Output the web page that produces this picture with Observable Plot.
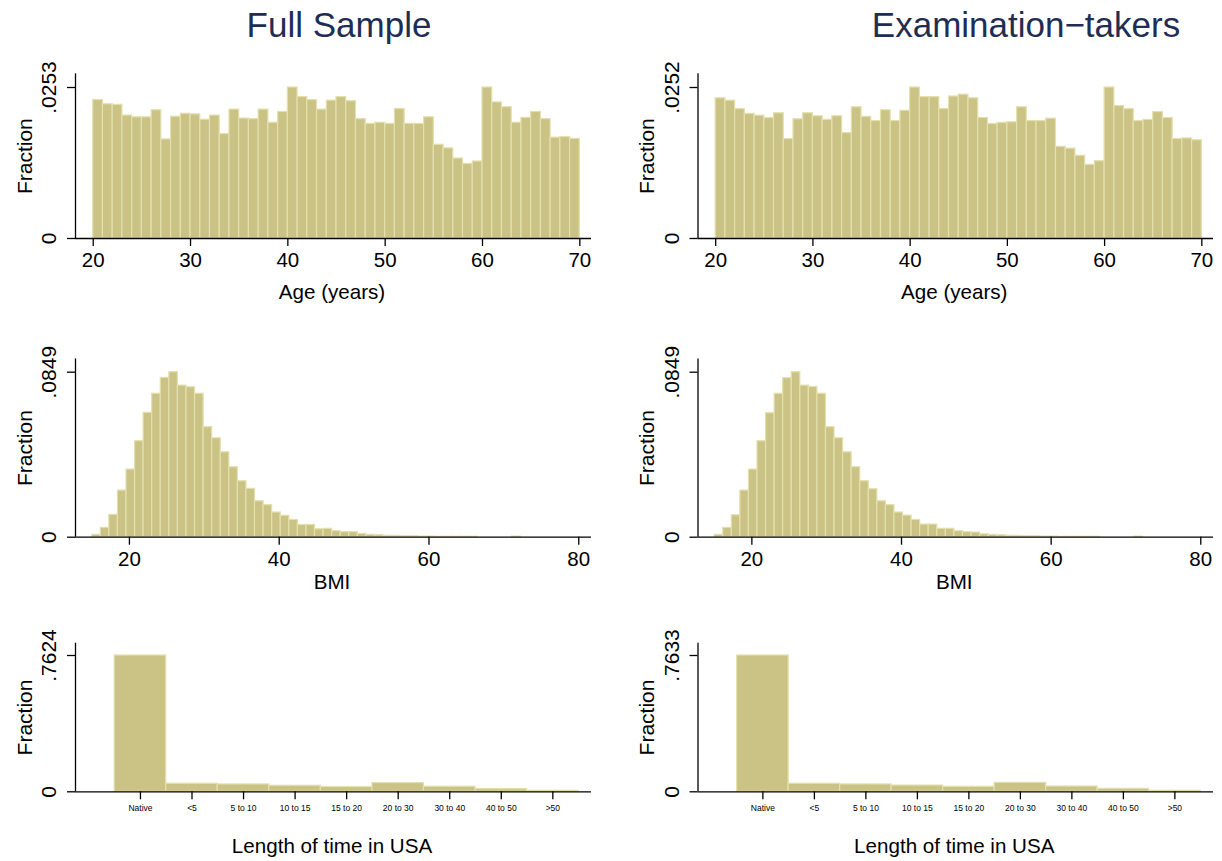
<!DOCTYPE html>
<html>
<head>
<meta charset="utf-8">
<script src="https://cdn.jsdelivr.net/npm/d3@7"></script>
<script src="https://cdn.jsdelivr.net/npm/@observablehq/plot@0.6"></script>
<style>
  body { margin: 0; background: #fff; }
  #wrap { position: relative; width: 1222px; height: 861px; overflow: hidden; background: #fff;
          font-family: "Liberation Sans", Arial, Helvetica, sans-serif; }
  .title { position: absolute; font-size: 35px; line-height: 35px; color: #1f2d55; white-space: nowrap;
           transform: translateX(-50%); }
  .panel { position: absolute; }
</style>
</head>
<body>
<div id="wrap"></div>
<script>
// ---------------- data ----------------
const columnTitles = ["Full Sample", "Examination\u2212takers"];

const ageBinStart = 20, ageBinWidth = 1;
const ageFull = [0.0232, 0.0225, 0.0224, 0.0206, 0.0203, 0.0203, 0.0215, 0.0166, 0.0204, 0.0209,
                 0.0208, 0.0199, 0.0206, 0.0175, 0.0216, 0.0201, 0.0200, 0.0216, 0.0194, 0.0212,
                 0.0253, 0.0237, 0.0232, 0.0216, 0.0231, 0.0237, 0.0230, 0.0200, 0.0192, 0.0194,
                 0.0192, 0.0217, 0.0192, 0.0192, 0.0203, 0.0157, 0.0151, 0.0134, 0.0125, 0.0129,
                 0.0253, 0.0228, 0.0220, 0.0194, 0.0202, 0.0212, 0.0200, 0.0169, 0.0170, 0.0167];
const ageExam = [0.0234, 0.0230, 0.0216, 0.0208, 0.0205, 0.0201, 0.0209, 0.0166, 0.0199, 0.0209,
                 0.0204, 0.0198, 0.0204, 0.0176, 0.0219, 0.0203, 0.0196, 0.0214, 0.0196, 0.0213,
                 0.0252, 0.0236, 0.0236, 0.0216, 0.0237, 0.0240, 0.0234, 0.0201, 0.0191, 0.0193,
                 0.0194, 0.0219, 0.0196, 0.0196, 0.0200, 0.0153, 0.0150, 0.0138, 0.0123, 0.0129,
                 0.0252, 0.0221, 0.0216, 0.0196, 0.0198, 0.0211, 0.0201, 0.0166, 0.0167, 0.0164];
const ageTicks = [20, 30, 40, 50, 60, 70];

const bmiBinStart = 15.03, bmiBinWidth = 1.1443;
const bmiFull = [0.0012, 0.0048, 0.0115, 0.0240, 0.0348, 0.0494, 0.0640, 0.0738, 0.0820, 0.0849,
                 0.0780, 0.0772, 0.0738, 0.0566, 0.0509, 0.0437, 0.0360, 0.0288, 0.0249, 0.0185,
                 0.0165, 0.0127, 0.0110, 0.0089, 0.0063, 0.0063, 0.0041, 0.0043, 0.0031, 0.0026,
                 0.0026, 0.0017, 0.0012, 0.0010, 0.0007, 0.0007, 0.0005, 0.0005, 0.0003, 0.0003,
                 0.0002, 0.0002, 0.0002, 0.0002, 0.0002, 0, 0, 0, 0, 0.0003];
const bmiExam = [0.0012, 0.0048, 0.0113, 0.0240, 0.0348, 0.0494, 0.0638, 0.0738, 0.0818, 0.0849,
                 0.0780, 0.0773, 0.0738, 0.0566, 0.0509, 0.0437, 0.0360, 0.0288, 0.0247, 0.0185,
                 0.0165, 0.0127, 0.0111, 0.0089, 0.0065, 0.0065, 0.0043, 0.0043, 0.0031, 0.0026,
                 0.0024, 0.0015, 0.0012, 0.0010, 0.0007, 0.0007, 0.0005, 0.0005, 0.0003, 0.0003,
                 0.0002, 0.0002, 0.0002, 0.0002, 0.0002, 0, 0, 0, 0, 0.0003];
const bmiTicks = [20, 40, 60, 80];

const usaCategories = ["Native", "<5", "5 to 10", "10 to 15", "15 to 20", "20 to 30", "30 to 40", "40 to 50", ">50"];
const usaFull = [0.7624, 0.0451, 0.0413, 0.0338, 0.0263, 0.0488, 0.0282, 0.0150, 0.0056];
const usaExam = [0.7633, 0.0450, 0.0413, 0.0350, 0.0278, 0.0500, 0.0296, 0.0165, 0.0056];

const xTitles = ["Age (years)", "BMI", "Length of time in USA"];
const yTitle = "Fraction";

// ---------------- style / layout ----------------
const FONT = '"Liberation Sans", Arial, Helvetica, sans-serif';
const FILL = "#cac385";
const EDGE = "#e4e0ad";
const AXW = 1.3;

const columns = [
  {left: 0,   width: 611, marginLeft: 75,   marginRight: 20, yPad: 12},
  {left: 611, width: 611, marginLeft: 86.5, marginRight: 9,  yPad: 11}
];
const rows = [
  {top: 50,  height: 260, marginTop: 23.3, marginBottom: 72,   headroom: 164.7 / 151,   xDomain: [18.18, 71.2], titleDy: 60.5, tickFont: 20.5, tickPad: 6},
  {top: 330, height: 270, marginTop: 28.4, marginBottom: 63.3, headroom: 178.3 / 165,   xDomain: [12.8, 81.7],  titleDy: 51.5, tickFont: 20.5, tickPad: 6},
  {top: 620, height: 241, marginTop: 22.7, marginBottom: 69.7, headroom: 148.6 / 136.3, xDomain: [-1.26, 8.75], titleDy: 61.5, tickFont: 8.5,  tickPad: 5}
];

function histBins(values, start, width) {
  return values.map((v, i) => ({x1: start + i * width, x2: start + (i + 1) * width, y: v})).filter(d => d.y > 0);
}
function catBins(values) {
  return values.map((v, i) => ({x1: i - 0.5, x2: i + 0.5, y: v}));
}
const fmtFrac = d => d === 0 ? "0" : d.toFixed(4).replace(/^0/, "");

const wrap = document.getElementById("wrap");

columnTitles.forEach((t, c) => {
  const div = document.createElement("div");
  div.className = "title";
  div.textContent = t;
  div.style.left = (c === 0 ? 339 : 1026) + "px";
  div.style.top = "6.5px";
  wrap.appendChild(div);
});

const panels = [
  [histBins(ageFull, ageBinStart, ageBinWidth), histBins(ageExam, ageBinStart, ageBinWidth), ageFull, ageExam, ageTicks, d => String(d)],
  [histBins(bmiFull, bmiBinStart, bmiBinWidth), histBins(bmiExam, bmiBinStart, bmiBinWidth), bmiFull, bmiExam, bmiTicks, d => String(d)],
  [catBins(usaFull), catBins(usaExam), usaFull, usaExam, d3.range(usaCategories.length), i => usaCategories[i]]
];

rows.forEach((row, r) => {
  columns.forEach((col, c) => {
    const [bf, be, vf, ve, xTicks, xFmt] = panels[r];
    const bars = c === 0 ? bf : be;
    const vals = c === 0 ? vf : ve;
    const ymax = d3.max(vals);
    const chart = Plot.plot({
      width: col.width,
      height: row.height,
      marginLeft: col.marginLeft,
      marginRight: col.marginRight,
      marginTop: row.marginTop,
      marginBottom: row.marginBottom,
      style: {fontFamily: FONT, background: "transparent", color: "#000", overflow: "visible"},
      x: {type: "linear", domain: row.xDomain},
      y: {domain: [0, ymax * row.headroom]},
      marks: [
        Plot.rectY(bars, {x1: "x1", x2: "x2", y: "y", fill: FILL, stroke: EDGE, strokeWidth: 1.2}),
        Plot.ruleX([row.xDomain[0]], {stroke: "#000", strokeWidth: AXW}),
        Plot.ruleY([0], {stroke: "#000", strokeWidth: AXW}),
        Plot.axisY({ticks: [0, ymax], tickFormat: fmtFrac, tickSize: 8, tickPadding: col.yPad,
                    tickRotate: -90, fontSize: 21, strokeWidth: AXW, label: null}),
        Plot.axisX({ticks: xTicks, tickFormat: xFmt, tickSize: 8, tickPadding: row.tickPad,
                    fontSize: row.tickFont, strokeWidth: AXW, label: null}),
        Plot.text([yTitle], {frameAnchor: "left", textAnchor: "middle", rotate: -90, dx: -58.5, lineAnchor: "top", fontSize: 21, fill: "#000"}),
        Plot.text([xTitles[r]], {frameAnchor: "bottom", textAnchor: "middle", dx: -1.5, dy: row.titleDy, lineAnchor: "bottom", fontSize: 20.6, fill: "#000"})
      ]
    });
    chart.classList.add("panel");
    chart.style.left = col.left + "px";
    chart.style.top = row.top + "px";
    wrap.appendChild(chart);
  });
});
</script>
</body>
</html>
